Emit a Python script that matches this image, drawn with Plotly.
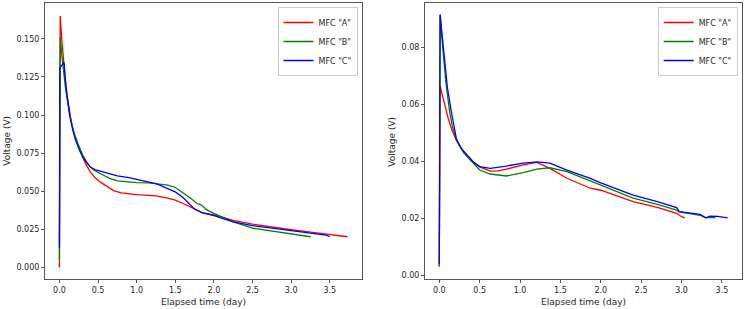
import plotly.graph_objects as go

# ---- Left panel data ----
L_A_t = [0, 0.005, 0.01, 0.03, 0.05, 0.075, 0.1, 0.13, 0.16, 0.2, 0.26, 0.33, 0.4, 0.46, 0.53, 0.6, 0.7, 0.8, 0.9, 1.0, 1.15, 1.25, 1.4, 1.5, 1.6, 1.75, 1.85, 2.0, 2.25, 2.5, 2.75, 3.0, 3.25, 3.5, 3.73]
L_A_v = [0, 0.14, 0.165, 0.150, 0.137, 0.124, 0.112, 0.102, 0.094, 0.086, 0.078, 0.069, 0.0627, 0.059, 0.056, 0.0535, 0.0505, 0.049, 0.0483, 0.0478, 0.0473, 0.047, 0.0455, 0.0442, 0.042, 0.0383, 0.036, 0.0345, 0.031, 0.0285, 0.0265, 0.0248, 0.0232, 0.0218, 0.0202]

L_B_t = [0, 0.005, 0.01, 0.03, 0.05, 0.08, 0.13, 0.18, 0.24, 0.3, 0.35, 0.4, 0.46, 0.53, 0.65, 0.75, 0.9, 1.0, 1.15, 1.3, 1.4, 1.5, 1.6, 1.7, 1.78, 1.82, 1.86, 1.9, 2.0, 2.25, 2.5, 2.75, 3.0, 3.12, 3.25]
L_B_v = [0.005, 0.13, 0.151, 0.14, 0.131, 0.117, 0.1008, 0.090, 0.081, 0.074, 0.0695, 0.0659, 0.0635, 0.0616, 0.0585, 0.0568, 0.056, 0.0557, 0.0556, 0.0545, 0.054, 0.0525, 0.049, 0.0455, 0.042, 0.0415, 0.040, 0.038, 0.0355, 0.030, 0.0258, 0.0238, 0.0218, 0.0208, 0.0202]

L_C_t = [0, 0.005, 0.02, 0.04, 0.06, 0.086, 0.11, 0.138, 0.17, 0.2, 0.25, 0.3, 0.35, 0.4, 0.46, 0.53, 0.65, 0.75, 0.9, 1.0, 1.1, 1.25, 1.4, 1.5, 1.6, 1.75, 1.85, 2.0, 2.25, 2.5, 2.75, 3.0, 3.25, 3.4, 3.45, 3.5]
L_C_v = [0.013, 0.131, 0.132, 0.133, 0.1345, 0.118, 0.108, 0.0985, 0.091, 0.085, 0.078, 0.0725, 0.069, 0.0659, 0.0642, 0.0631, 0.0612, 0.0601, 0.059, 0.0577, 0.0567, 0.0551, 0.052, 0.0496, 0.046, 0.0383, 0.0358, 0.034, 0.030, 0.0275, 0.0258, 0.0242, 0.0228, 0.0218, 0.0212, 0.0202]

# ---- Right panel data ----
R_A_t = [0, 0.005, 0.01, 0.042, 0.08, 0.11, 0.15, 0.2, 0.25, 0.3, 0.4, 0.5, 0.63, 0.73, 0.83, 1.04, 1.21, 1.37, 1.58, 1.87, 2.0, 2.4, 2.7, 2.94, 3.0, 3.04]
R_A_v = [0.003, 0.04, 0.0665, 0.0627, 0.058, 0.0551, 0.0515, 0.048, 0.0455, 0.0435, 0.040, 0.038, 0.0365, 0.0366, 0.0372, 0.0387, 0.0396, 0.0375, 0.034, 0.0305, 0.0298, 0.0258, 0.0238, 0.0217, 0.0205, 0.0201]

R_B_t = [0, 0.005, 0.01, 0.03, 0.05, 0.08, 0.13, 0.16, 0.2, 0.25, 0.3, 0.4, 0.5, 0.63, 0.83, 1.04, 1.21, 1.37, 1.58, 1.87, 2.0, 2.4, 2.7, 2.94, 2.97, 3.1, 3.23, 3.3, 3.35, 3.42]
R_B_v = [0.003, 0.05, 0.0915, 0.084, 0.0785, 0.068, 0.057, 0.0525, 0.0485, 0.0455, 0.043, 0.040, 0.0369, 0.0355, 0.0348, 0.036, 0.0372, 0.0377, 0.0363, 0.0331, 0.0316, 0.027, 0.0248, 0.0228, 0.0222, 0.0215, 0.021, 0.0201, 0.0203, 0.0201]

R_C_t = [0, 0.005, 0.01, 0.04, 0.07, 0.1, 0.145, 0.18, 0.215, 0.27, 0.34, 0.42, 0.5, 0.63, 0.83, 1.04, 1.21, 1.37, 1.58, 1.87, 2.0, 2.4, 2.7, 2.94, 2.97, 3.1, 3.23, 3.3, 3.35, 3.45, 3.57]
R_C_v = [0.004, 0.05, 0.0915, 0.083, 0.0744, 0.066, 0.058, 0.052, 0.0474, 0.0445, 0.0422, 0.0398, 0.0381, 0.0375, 0.0383, 0.0393, 0.0398, 0.0393, 0.0369, 0.034, 0.0324, 0.0281, 0.0258, 0.0237, 0.0223, 0.0218, 0.0213, 0.0201, 0.0207, 0.0206, 0.0201]

names = ['MFC "A"', 'MFC "B"', 'MFC "C"']
colors = ['#ff0000', '#008000', '#0000ff']
x_ticks = [0.0, 0.5, 1.0, 1.5, 2.0, 2.5, 3.0, 3.5]
left_y_ticks = [0.000, 0.025, 0.050, 0.075, 0.100, 0.125, 0.150]
right_y_ticks = [0.00, 0.02, 0.04, 0.06, 0.08]

FONT = "DejaVu Sans"
TXT = "#262626"
FRAME = "#555555"

fig = go.Figure()
left_series = [(L_A_t, L_A_v), (L_B_t, L_B_v), (L_C_t, L_C_v)]
right_series = [(R_A_t, R_A_v), (R_B_t, R_B_v), (R_C_t, R_C_v)]
for (t, v), n, c in zip(left_series, names, colors):
    fig.add_trace(go.Scatter(x=t, y=v, mode="lines", name=n, line=dict(color=c, width=1.3),
                             xaxis="x", yaxis="y", legend="legend"))
for (t, v), n, c in zip(right_series, names, colors):
    fig.add_trace(go.Scatter(x=t, y=v, mode="lines", name=n, line=dict(color=c, width=1.3),
                             xaxis="x2", yaxis="y2", legend="legend2"))

W, H = 745, 309
axis_common = dict(showgrid=False, zeroline=False, showline=True, mirror=True,
                   linecolor=FRAME, linewidth=1, ticks="outside", ticklen=3,
                   tickcolor=FRAME, tickwidth=1,
                   tickfont=dict(family=FONT, size=8, color=TXT))
ydom = [1 - 279.3 / H, 1 - 3 / H]
leg_common = dict(yanchor="top", xanchor="right", bgcolor="rgba(255,255,255,0.8)",
                  bordercolor="#cccccc", borderwidth=1,
                  font=dict(family=FONT, size=8, color=TXT), itemwidth=30, tracegroupgap=0)
fig.update_layout(
    width=W, height=H,
    margin=dict(l=0, r=0, t=0, b=0),
    paper_bgcolor="white", plot_bgcolor="white",
    xaxis=dict(domain=[45 / W, 362 / W], range=[-0.1865, 3.9165], tickvals=x_ticks,
               tickformat=".1f", anchor="y", **axis_common),
    yaxis=dict(domain=ydom, range=[-0.0077, 0.1735], tickvals=left_y_ticks,
               tickformat=".3f", anchor="x", **axis_common),
    xaxis2=dict(domain=[425 / W, 741.7 / W], range=[-0.177, 3.745], tickvals=x_ticks,
                tickformat=".1f", anchor="y2", **axis_common),
    yaxis2=dict(domain=ydom, range=[-0.0015, 0.0956], tickvals=right_y_ticks,
                tickformat=".2f", anchor="x2", **axis_common),
    legend=dict(x=357.5 / W, y=1 - 7 / H, **leg_common),
    legend2=dict(x=737.7 / W, y=1 - 7 / H, **leg_common),
    annotations=[
        dict(text="Elapsed time (day)", x=203.5 / W, y=1 - 301.7 / H, xref="paper", yref="paper",
             xanchor="center", yanchor="middle", showarrow=False,
             font=dict(family=FONT, size=9, color=TXT)),
        dict(text="Elapsed time (day)", x=583.3 / W, y=1 - 301.7 / H, xref="paper", yref="paper",
             xanchor="center", yanchor="middle", showarrow=False,
             font=dict(family=FONT, size=9, color=TXT)),
        dict(text="Voltage (V)", x=7.5 / W, y=1 - 141.2 / H, xref="paper", yref="paper",
             xanchor="center", yanchor="middle", showarrow=False, textangle=-90,
             font=dict(family=FONT, size=9, color=TXT)),
        dict(text="Voltage (V)", x=392.5 / W, y=1 - 141.2 / H, xref="paper", yref="paper",
             xanchor="center", yanchor="middle", showarrow=False, textangle=-90,
             font=dict(family=FONT, size=9, color=TXT)),
    ],
)

fig.write_html("out.html", config={"displayModeBar": False},
               post_script="document.body.style.margin='0';document.body.style.overflow='hidden';")
